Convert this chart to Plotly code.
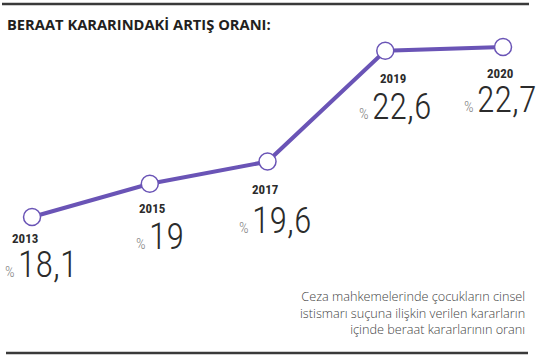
import plotly.graph_objects as go

years = ["2013", "2015", "2017", "2019", "2020"]
values = [18.1, 19.0, 19.6, 22.6, 22.7]
value_labels = ["18,1", "19", "19,6", "22,6", "22,7"]
title_text = "BERAAT KARARINDAKİ ARTIŞ ORANI:"
note_lines = ["Ceza mahkemelerinde çocukların cinsel",
              "istismarı suçuna ilişkin verilen kararların",
              "içinde beraat kararlarının oranı"]

LINE = "#6a54b6"
DARK = "#2b2b2b"

xi = list(range(len(years)))

fig = go.Figure()
fig.add_trace(go.Scatter(
    x=xi, y=values, mode="lines+markers",
    line=dict(color=LINE, width=4),
    marker=dict(size=17, color="white", line=dict(color=LINE, width=1.5)),
    hoverinfo="skip", showlegend=False,
))

# per-point label offsets in pixels (dx, dy down) relative to marker
year_off = [(-7, 21.5), (3, 25), (-2, 28), (8, 28), (-3.5, 26.5)]
val_left = [-29, -16, -31, -28, -41]
val_base = [61, 66, 72, 69, 66]
VSIZE = 36

ann = []
for i, (yr, v, lab) in enumerate(zip(years, values, value_labels)):
    ann.append(dict(x=i, y=v, xref="x", yref="y", text="<b>" + yr + "</b>",
                    showarrow=False, xshift=year_off[i][0], yshift=-year_off[i][1],
                    font=dict(family="Roboto Condensed, Roboto", size=13, color=DARK)))
    ann.append(dict(x=i, y=v, xref="x", yref="y",
                    text='<span style="font-size:15px;color:#7f7f7f">% </span>' + lab,
                    showarrow=False, xanchor="left", yanchor="bottom",
                    xshift=val_left[i], yshift=-(val_base[i] + 0.244 * VSIZE + 1.5),
                    font=dict(family="Roboto Condensed, Roboto", size=VSIZE, color=DARK, weight=300)))

ann.append(dict(x=5 / 540, y=1 - 24 / 355, xref="paper", yref="paper", xanchor="left",
                yanchor="middle", text="<b>" + title_text + "</b>", showarrow=False,
                font=dict(family="Open Sans", size=14.7, color="#231f20")))
ann.append(dict(x=527 / 540, y=1 - 312 / 355, xref="paper", yref="paper", xanchor="right",
                yanchor="middle", align="right", text="<br>".join(note_lines),
                showarrow=False,
                font=dict(family="Open Sans", size=12.7, color="#444444", weight=300)))

shapes = [
    dict(type="line", xref="paper", yref="paper", x0=2 / 540, x1=529 / 540,
         y0=1 - 4 / 355, y1=1 - 4 / 355, line=dict(color="#3a3a3a", width=2.5)),
    dict(type="line", xref="paper", yref="paper", x0=6 / 540, x1=528 / 540,
         y0=1 - 353 / 355, y1=1 - 353 / 355, line=dict(color="#3a3a3a", width=2.5)),
]

fig.update_layout(
    width=540, height=355,
    margin=dict(l=0, r=0, t=0, b=0),
    paper_bgcolor="white", plot_bgcolor="white",
    xaxis=dict(range=[-0.272, 4.314], visible=False, fixedrange=True),
    yaxis=dict(range=[14.366, 23.972], visible=False, fixedrange=True),
    annotations=ann, shapes=shapes,
)

fig.write_html("out.html", config={"displayModeBar": False},
               post_script="document.body.style.margin='0px';")
